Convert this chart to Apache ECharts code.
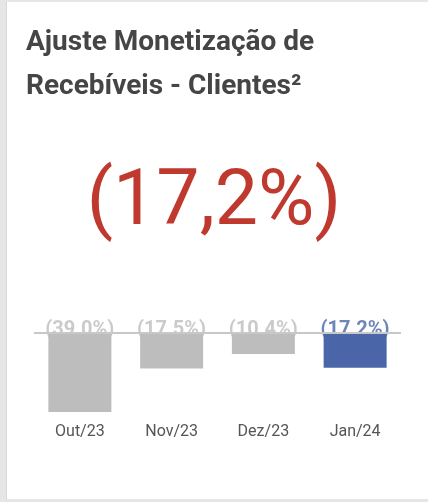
<!DOCTYPE html>
<html>
<head>
<meta charset="utf-8">
<script src="https://cdn.jsdelivr.net/npm/echarts@6/dist/echarts.min.js"></script>
<style>
    html, body { margin: 0; padding: 0; background: #e6e6e6; }
    #card { position: absolute; left: 6px; top: 2px; width: 422px; height: 497px; background: #fff; border-left: 1px solid #d8d8d8; box-sizing: border-box; }
    #chart { position: absolute; left: 0; top: 0; width: 428px; height: 502px; }
</style>
</head>
<body>
<div id="card"></div>
<div id="chart"></div>
<script>
const months = ['Out/23', 'Nov/23', 'Dez/23', 'Jan/24'];
const values = [-39.0, -17.5, -10.4, -17.2];
const barColors = ['#bdbdbd', '#bdbdbd', '#bdbdbd', '#4a66a8'];
const headline = '(17,2%)';
const titleText = 'Ajuste Monetização de\nRecebíveis - Clientes²';

// rótulo no formato (39.0%)
function fmtLabel(v) {
    return '(' + Math.abs(v).toFixed(1) + '%)';
}

document.addEventListener('DOMContentLoaded', () => {
    const chart = echarts.init(document.getElementById('chart'));

    chart.setOption({
        backgroundColor: 'transparent',
        animation: false,
        textStyle: { fontFamily: 'Roboto' },
        title: {
            text: titleText,
            left: 21,
            top: 16,
            textStyle: { fontSize: 28, fontWeight: 'bold', color: '#454545', lineHeight: 44, fontFamily: 'Roboto' }
        },
        graphic: [{
            type: 'text',
            left: 'center',
            top: 166,
            style: { text: headline, fontSize: 77, fontFamily: 'Roboto', fill: '#c0392f' }
        }],
        grid: { left: 34, right: 27, top: 333, bottom: 88 },
        xAxis: {
            type: 'category',
            data: months,
            axisLine: { show: false, onZero: false },
            axisTick: { show: false },
            axisLabel: { margin: 10, fontSize: 16, color: '#555' }
        },
        yAxis: { type: 'value', min: -40, max: 0, show: false },
        series: [{
            // rótulos ficam atrás das barras
            type: 'scatter',
            z: 1,
            symbolSize: 0,
            data: values.map((v, i) => ({ value: 0, label: { color: barColors[i] } })),
            label: {
                show: true,
                position: 'inside',
                offset: [0, -3],
                fontSize: 20,
                fontWeight: 'bold',
                formatter: (p) => fmtLabel(values[p.dataIndex])
            }
        }, {
            type: 'bar',
            z: 2,
            barWidth: 63,
            data: values.map((v, i) => ({ value: v, itemStyle: { color: barColors[i] } })),
            markLine: {
                silent: true,
                symbol: 'none',
                label: { show: false },
                lineStyle: { color: '#c8c8c8', type: 'solid', width: 2 },
                data: [{ yAxis: 0 }]
            }
        }]
    });
});
</script>
</body>
</html>
